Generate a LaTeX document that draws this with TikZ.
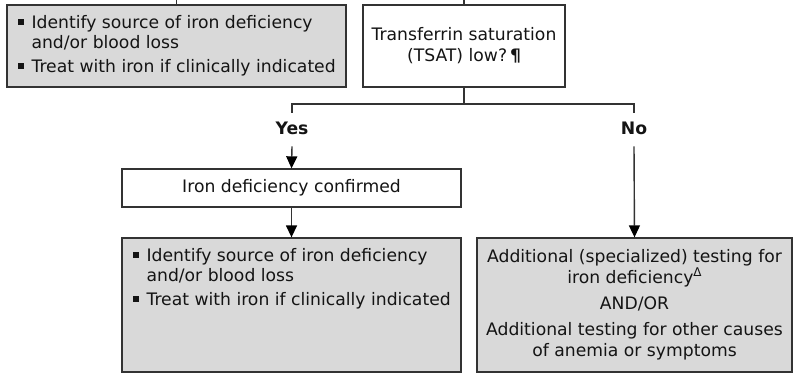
\documentclass[tikz,border=0pt]{standalone}
\usepackage{fontspec}
\setmainfont{DejaVu Sans}
\usetikzlibrary{arrows.meta,calc}
\definecolor{boxgray}{HTML}{D9D9D9}
\definecolor{linec}{HTML}{333333}
\definecolor{txt}{HTML}{141414}
\newcommand{\bsq}{\rule[3pt]{6pt}{6pt}}
\begin{document}
\begin{tikzpicture}[x=1pt,y=-1pt,
  every node/.style={text=txt,font=\fontsize{17.2}{21}\selectfont},
  box/.style={draw=linec,line width=1.3pt,rectangle,inner sep=0pt,anchor=center},
  graybox/.style={box,fill=boxgray},
  whitebox/.style={box,fill=white},
  listtext/.style={anchor=base west,inner sep=0pt,align=left},
  conn/.style={draw=linec,line width=1.4pt},
  arr/.style={conn,-{Triangle[width=11pt,length=12pt,color=black]}},
  lbl/.style={inner sep=0pt,font=\fontsize{17.2}{21}\selectfont\bfseries}
]
\fill[white] (0,0) rectangle (800,382);
\useasboundingbox (0,0) rectangle (800,382);

% boxes
\node[graybox,minimum width=339pt,minimum height=82pt] (lb1) at (176.5,46) {};
\node[whitebox,minimum width=202pt,minimum height=82pt,align=center] (tsat) at (464,46)
  {Transferrin saturation\\(TSAT) low?\,\textbf{¶}};
\node[whitebox,minimum width=339pt,minimum height=38pt] (conf) at (291.5,188)
  {Iron deficiency confirmed};
\node[graybox,minimum width=339pt,minimum height=134pt] (lb2) at (291.5,305) {};
\node[graybox,minimum width=315pt,minimum height=134pt] (rb) at (634.5,305) {};

% texts
\node[align=center,inner sep=0pt] (rbtext) at (rb.center)
  {Additional (specialized) testing for\\iron deficiency\raisebox{7pt}{\fontsize{12}{12}\selectfont Δ}\\[5pt]AND/OR\\[5pt]Additional testing for other causes\\of anemia or symptoms};
\node[listtext] (t1) at ($(lb1.north west)+(11,24)$)
  {\fontsize{17.2}{20}\selectfont\begin{tabular}[t]{@{}l@{\hspace{8pt}}l@{}}
   \bsq & Identify source of iron deficiency\\
        & and/or blood loss\\[4pt]
   \bsq & Treat with iron if clinically indicated
   \end{tabular}};
\node[listtext] (t2) at ($(lb2.north west)+(11,24)$)
  {\fontsize{17.2}{20}\selectfont\begin{tabular}[t]{@{}l@{\hspace{8pt}}l@{}}
   \bsq & Identify source of iron deficiency\\
        & and/or blood loss\\[4pt]
   \bsq & Treat with iron if clinically indicated
   \end{tabular}};

% top stubs (incoming connectors cut off at the top edge)
\coordinate (s1) at (176.5,0);
\coordinate (s2) at (464,0);
\draw[conn] (s1) -- (lb1.north);
\draw[conn] (s2) -- (tsat.north);

% branch
\coordinate (bj) at (464,104);
\coordinate (by) at (292,104);
\coordinate (bn) at (634,104);
\node[lbl,anchor=base] (yes) at (292,135) {Yes};
\node[lbl,anchor=base] (no) at (634,135) {No};
\draw[conn] (tsat.south) -- (bj);
\draw[conn] ($(by)+(0,9)$) -- (by) -- (bn) -- ($(bn)+(0,9)$);
\draw[arr] ($(yes.south)+(0,11)$) -- (conf.north);
\draw[arr] ($(no.south)+(0,11)$) -- (rb.north);
\draw[arr] (conf.south) -- (lb2.north);
\end{tikzpicture}
\end{document}
